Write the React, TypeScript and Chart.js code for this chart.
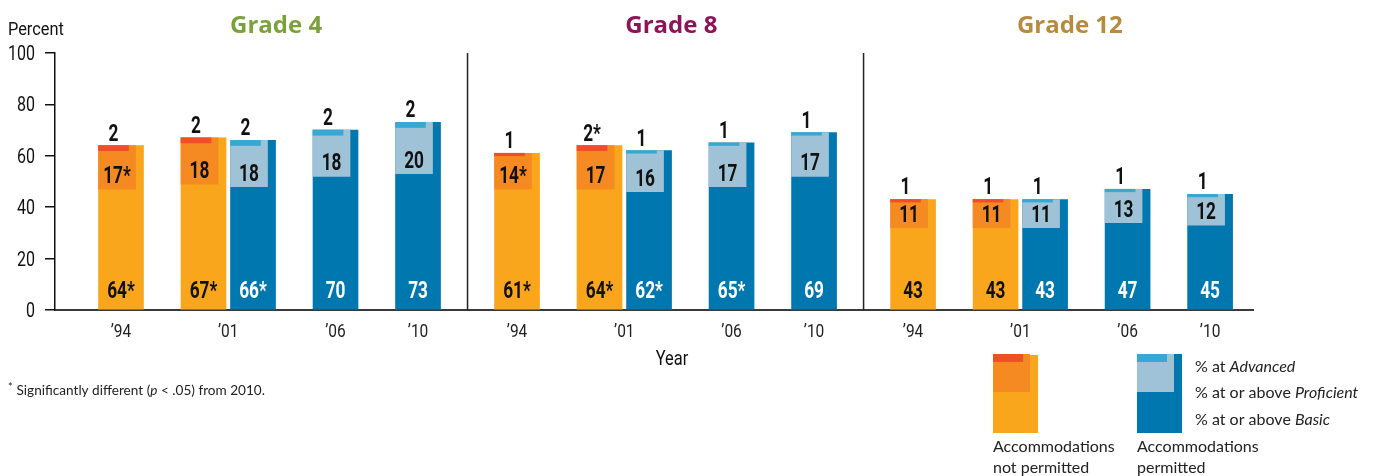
import React, { useEffect, useRef } from 'react';
import { Chart, registerables } from 'chart.js';

Chart.register(...registerables);

// ---------- data ----------
const gradeNames = ['Grade 4', 'Grade 8', 'Grade 12'];
const gradeColors = ['#7ba23a', '#8e1459', '#b88b3c'];
// one entry per bar (5 bars per grade)
const barYears = ['’94', '’01', '’01', '’06', '’10', '’94', '’01', '’01', '’06', '’10', '’94', '’01', '’01', '’06', '’10'];
const barGrade = [0, 0, 0, 0, 0, 1, 1, 1, 1, 1, 2, 2, 2, 2, 2];
const barPermitted = [false, false, true, true, true, false, false, true, true, true, false, false, true, true, true];
const barSlots = [8, 18, 24, 34, 44, 56, 66, 72, 82, 92, 104, 114, 120, 130, 140];
const basicPct = [64, 67, 66, 70, 73, 61, 64, 62, 65, 69, 43, 43, 43, 47, 45];
const proficientPct = [17, 18, 18, 18, 20, 14, 17, 16, 17, 17, 11, 11, 11, 13, 12];
const advancedPct = [2, 2, 2, 2, 2, 1, 2, 1, 1, 1, 1, 1, 1, 1, 1];
const basicSig = [true, true, true, false, false, true, true, true, true, false, false, false, false, false, false];
const proficientSig = [true, false, false, false, false, true, false, false, false, false, false, false, false, false, false];
const advancedSig = [false, false, false, false, false, false, true, false, false, false, false, false, false, false, false];
// x-axis year ticks
const yearTickSlots = [8, 21, 34, 44, 56, 69, 82, 92, 104, 117, 130, 140];
const yearTickLabels = ['’94', '’01', '’06', '’10', '’94', '’01', '’06', '’10', '’94', '’01', '’06', '’10'];
const gradeDividers = [50, 98];
const gradeCenters = [26.8, 74.7, 123];
const yTicks = [0, 20, 40, 60, 80, 100];

// ---------- layout / style ----------
const W = 1375;
const H = 476;
const X_MIN = 0;
const X_MAX = 145.2;
const UNIT_PX = (1253 - 55) / (X_MAX - X_MIN);
const BASIC_W = 45;
const PROF_W = 37;
const ADV_W = 30;
const COND = "Roboto, 'Noto Sans', sans-serif";
const SANS = "Lato, 'Open Sans', 'Noto Sans', sans-serif";

const COLORS = {
  np: { basic: '#f9a61c', prof: '#f58a22', adv: '#ee4f25' },
  p: { basic: '#0077ae', prof: '#9fc2d6', adv: '#37a8d3' },
};

const pick = (i: number, key: 'basic' | 'prof' | 'adv') => (barPermitted[i] ? COLORS.p[key] : COLORS.np[key]);

function condText(ctx: CanvasRenderingContext2D, text: string, x: number, y: number, font: string, align: CanvasTextAlign, sx: number, color: string) {
  ctx.save();
  ctx.font = font;
  ctx.fillStyle = color;
  ctx.textAlign = align;
  ctx.textBaseline = 'alphabetic';
  ctx.translate(x, y);
  ctx.scale(sx, 1);
  ctx.fillText(text, 0, 0);
  ctx.restore();
}

const annotations = {
  id: 'annotations',
  afterDatasetsDraw(chart: any) {
    const { ctx, scales } = chart;
    const xs = scales.x;
    const ys = scales.y;
    const metaAdv = chart.getDatasetMeta(0);
    const metaProf = chart.getDatasetMeta(1);
    const metaBasic = chart.getDatasetMeta(2);
    ctx.save();
    // grade dividers
    ctx.strokeStyle = '#222';
    ctx.lineWidth = 1.5;
    gradeDividers.forEach((v) => {
      const px = xs.getPixelForValue(v);
      ctx.beginPath();
      ctx.moveTo(px, ys.getPixelForValue(100));
      ctx.lineTo(px, ys.getPixelForValue(0));
      ctx.stroke();
    });
    ctx.restore();
    // value labels
    const f = `bold 23px ${COND}`;
    const sx = 0.75;
    basicPct.forEach((b, i) => {
      const bb = metaBasic.data[i];
      const pb = metaProf.data[i];
      const ab = metaAdv.data[i];
      condText(ctx, `${b}${basicSig[i] ? '*' : ''}`, bb.x, ys.getPixelForValue(0) - 12, f, 'center', sx, barPermitted[i] ? '#ffffff' : '#111111');
      condText(ctx, `${proficientPct[i]}${proficientSig[i] ? '*' : ''}`, pb.x, ys.getPixelForValue(b - proficientPct[i]) - 6, f, 'center', sx, '#111111');
      condText(ctx, `${advancedPct[i]}${advancedSig[i] ? '*' : ''}`, ab.x, ys.getPixelForValue(b) - 5, f, 'center', sx, '#111111');
    });
  },
  afterDraw(chart: any) {
    const { ctx, scales } = chart;
    const xs = scales.x;
    const ys = scales.y;
    // axis tick labels from the scales' ticks
    ys.ticks.forEach((t: any) => {
      condText(ctx, String(t.value), 35, ys.getPixelForValue(t.value) + 7, `20px ${COND}`, 'right', 0.8, '#111');
    });
    xs.ticks.forEach((t: any, i: number) => {
      condText(ctx, yearTickLabels[i], xs.getPixelForValue(t.value), 337, `18px ${COND}`, 'center', 0.86, '#222');
    });
    // axis titles
    condText(ctx, 'Percent', 8, 35, `19px ${COND}`, 'left', 0.86, '#111');
    condText(ctx, 'Year', 672, 365, `20px ${COND}`, 'center', 0.82, '#111');

    ctx.save();
    // grade titles
    ctx.font = `bold 24px 'Open Sans', Lato, sans-serif`;
    ctx.textAlign = 'center';
    ctx.textBaseline = 'alphabetic';
    gradeNames.forEach((g, k) => {
      ctx.fillStyle = gradeColors[k];
      ctx.fillText(g, xs.getPixelForValue(gradeCenters[k]), 33);
    });

    // footnote
    ctx.fillStyle = '#222';
    ctx.textAlign = 'left';
    let fx = 8;
    const fy = 395;
    ctx.font = `11px ${SANS}`;
    ctx.fillText('*', fx, fy - 4);
    fx += ctx.measureText('* ').width + 1;
    const seg = (t: string, italic: boolean) => {
      ctx.font = `${italic ? 'italic ' : ''}13.6px ${SANS}`;
      ctx.fillText(t, fx, fy);
      fx += ctx.measureText(t).width;
    };
    seg('Significantly different (', false);
    seg('p', true);
    seg(' < .05) from 2010.', false);

    // legend
    const lx1 = 993;
    const lx2 = 1137;
    const ly = 354;
    ctx.fillStyle = COLORS.np.basic;
    ctx.fillRect(lx1, ly + 1, BASIC_W, 78);
    ctx.fillStyle = COLORS.np.prof;
    ctx.fillRect(lx1, ly, PROF_W, 38);
    ctx.fillStyle = COLORS.np.adv;
    ctx.fillRect(lx1, ly, ADV_W, 8);
    ctx.fillStyle = COLORS.p.basic;
    ctx.fillRect(lx2, ly, BASIC_W, 79);
    ctx.fillStyle = COLORS.p.prof;
    ctx.fillRect(lx2, ly, PROF_W, 38);
    ctx.fillStyle = COLORS.p.adv;
    ctx.fillRect(lx2, ly, ADV_W, 8);

    ctx.fillStyle = '#222';
    ctx.textBaseline = 'middle';
    const legendLine = (plain: string, ital: string, y: number) => {
      let x = 1195;
      ctx.font = `16px ${SANS}`;
      ctx.fillText(plain, x, y);
      x += ctx.measureText(plain).width;
      ctx.font = `italic 16px ${SANS}`;
      ctx.fillText(ital, x, y);
    };
    legendLine('% at ', 'Advanced', 367);
    legendLine('% at or above ', 'Proficient', 393);
    legendLine('% at or above ', 'Basic', 420);
    ctx.font = `16px ${SANS}`;
    ctx.fillText('Accommodations', lx1, 447);
    ctx.fillText('not permitted', lx1, 468);
    ctx.fillText('Accommodations', lx2, 447);
    ctx.fillText('permitted', lx2, 468);
    ctx.restore();
  },
};

export default function App() {
  const canvasRef = useRef<HTMLCanvasElement | null>(null);

  useEffect(() => {
    if (!canvasRef.current) return;
    const profShift = (BASIC_W - PROF_W) / 2 / UNIT_PX;
    const advShift = (BASIC_W - ADV_W) / 2 / UNIT_PX;
    const chart = new Chart(canvasRef.current, {
      type: 'bar',
      data: {
        datasets: [
          {
            label: '% at Advanced',
            xAxisID: 'xAdv',
            data: barSlots.map((s, i) => ({ x: s, y: [basicPct[i] - advancedPct[i], basicPct[i]] })) as any,
            backgroundColor: barSlots.map((_, i) => pick(i, 'adv')),
            barThickness: ADV_W,
            grouped: false,
            order: 1,
          },
          {
            label: '% at or above Proficient',
            xAxisID: 'xProf',
            data: barSlots.map((s, i) => ({ x: s, y: [basicPct[i] - proficientPct[i], basicPct[i]] })) as any,
            backgroundColor: barSlots.map((_, i) => pick(i, 'prof')),
            barThickness: PROF_W,
            grouped: false,
            order: 2,
          },
          {
            label: '% at or above Basic',
            xAxisID: 'x',
            data: barSlots.map((s, i) => ({ x: s, y: [0, basicPct[i]] })) as any,
            backgroundColor: barSlots.map((_, i) => pick(i, 'basic')),
            barThickness: BASIC_W,
            grouped: false,
            order: 3,
          },
        ],
      },
      options: {
        responsive: false,
        animation: false,
        devicePixelRatio: 1,
        layout: { padding: { left: 0, right: W - 1253, top: 53, bottom: 0 } },
        plugins: { legend: { display: false }, tooltip: { enabled: false }, title: { display: false } },
        scales: {
          x: {
            type: 'linear',
            position: 'bottom',
            min: X_MIN,
            max: X_MAX,
            offset: false,
            afterBuildTicks: (s: any) => {
              s.ticks = yearTickSlots.map((v) => ({ value: v }));
            },
            afterFit: (s: any) => {
              s.height = H - 310;
            },
            border: { display: true, color: '#3a3a3a', width: 2 },
            grid: { display: true, drawOnChartArea: false, drawTicks: false, offset: false },
            ticks: { display: false, autoSkip: false, maxRotation: 0 },
          },
          xProf: {
            type: 'linear',
            display: false,
            min: X_MIN + profShift,
            max: X_MAX + profShift,
            offset: false,
          },
          xAdv: {
            type: 'linear',
            display: false,
            min: X_MIN + advShift,
            max: X_MAX + advShift,
            offset: false,
          },
          y: {
            type: 'linear',
            min: 0,
            max: 100,
            afterBuildTicks: (s: any) => {
              s.ticks = yTicks.map((v) => ({ value: v }));
            },
            afterFit: (s: any) => {
              s.width = 55;
            },
            border: { display: true, color: '#111', width: 1.5 },
            grid: { drawOnChartArea: false, drawTicks: true, tickLength: 10, color: '#111', lineWidth: 1.5 },
            ticks: { display: false },
          },
        },
      } as any,
      plugins: [annotations],
    });
    return () => chart.destroy();
  }, []);

  return (
    <div style={{ position: 'absolute', left: 0, top: 0, width: W, height: H, background: '#ffffff' }}>
      <canvas ref={canvasRef} width={W} height={H} style={{ display: 'block' }} />
    </div>
  );
}
